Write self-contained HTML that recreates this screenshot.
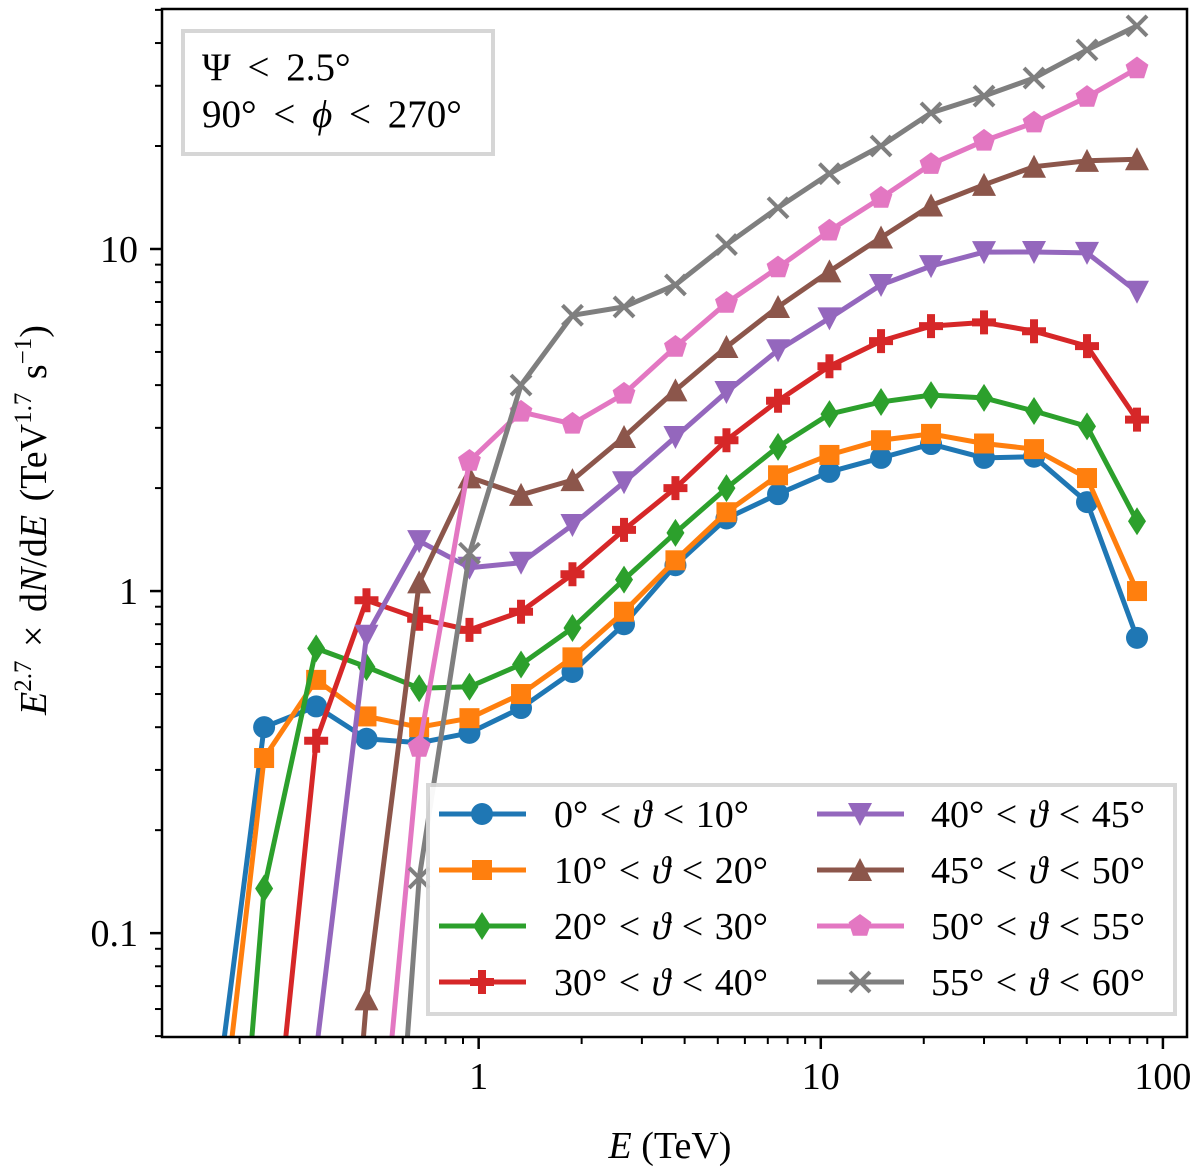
<!DOCTYPE html>
<html><head><meta charset="utf-8"><style>
html,body{margin:0;background:#fff;width:1200px;height:1172px;overflow:hidden;position:relative}
svg{display:block;position:absolute;left:0;top:0;font-family:"Liberation Serif",serif}
</style></head><body>
<svg id="chart" width="1200" height="1172" viewBox="0 0 1200 1172" xmlns="http://www.w3.org/2000/svg">
<defs><clipPath id="clip"><rect x="162" y="9" width="1025" height="1028"/></clipPath></defs>
<g id="plot" clip-path="url(#clip)"></g>
<g id="axes"></g>
<text x="670" y="1158" text-anchor="middle" font-size="38"><tspan font-style="italic">E</tspan> (TeV)</text>
<text transform="translate(46,520) rotate(-90)" text-anchor="middle" font-size="38" word-spacing="4"><tspan font-style="italic">E</tspan><tspan font-size="25" dy="-15">2.7</tspan><tspan dy="15"> × d</tspan><tspan font-style="italic">N</tspan>/d<tspan font-style="italic">E</tspan>  (TeV<tspan font-size="25" dy="-15">1.7</tspan><tspan dy="15"> s</tspan><tspan font-size="25" dy="-15">−1</tspan><tspan dy="15">)</tspan></text>
<g>
<rect x="183" y="31" width="310" height="123" fill="#fff" stroke="#d6d6d6" stroke-width="4"/>
<text x="202" y="80" font-size="39" word-spacing="7">Ψ &lt; 2.5°</text>
<text x="202" y="127" font-size="39" word-spacing="7">90° &lt; <tspan font-style="italic">ϕ</tspan> &lt; 270°</text>
</g>
<g id="legend"></g>
</svg>
<script>
const energies=[0.167,0.236,0.335,0.47,0.67,0.94,1.33,1.88,2.66,3.76,5.3,7.5,10.6,15,21,30,42,60,84];
const labels=["0° < ϑ < 10°","10° < ϑ < 20°","20° < ϑ < 30°","30° < ϑ < 40°","40° < ϑ < 45°","45° < ϑ < 50°","50° < ϑ < 55°","55° < ϑ < 60°"];
const colors=["#1f77b4","#ff7f0e","#2ca02c","#d62728","#9467bd","#8c564b","#e377c2","#7f7f7f"];
const markers=["circle","square","diamond","plus","tridown","triup","pentagon","x"];
const s0=[0.027,0.40,0.46,0.37,0.36,0.385,0.455,0.58,0.80,1.19,1.63,1.92,2.23,2.45,2.69,2.45,2.47,1.82,0.73];
const s1=[0.016,0.325,0.55,0.43,0.40,0.425,0.50,0.64,0.87,1.23,1.70,2.18,2.5,2.76,2.88,2.7,2.6,2.14,1.0];
const s2=[0.002,0.135,0.68,0.60,0.52,0.525,0.61,0.78,1.08,1.48,2.0,2.64,3.29,3.57,3.74,3.67,3.36,3.03,1.6];
const s3=[null,0.012,0.365,0.94,0.83,0.77,0.87,1.12,1.51,2.0,2.76,3.6,4.54,5.38,5.95,6.1,5.75,5.2,3.17];
const s4=[null,null,0.045,0.74,1.40,1.17,1.21,1.56,2.08,2.82,3.82,5.06,6.27,7.85,8.91,9.79,9.8,9.74,7.5];
const s5=[null,null,0.001,0.064,1.06,2.15,1.91,2.11,2.82,3.86,5.17,6.77,8.6,10.8,13.4,15.4,17.4,18.1,18.3];
const s6=[null,null,null,0.008,0.35,2.4,3.34,3.08,3.77,5.17,6.95,8.82,11.3,14.1,17.7,20.7,23.4,27.8,33.7];
const s7=[null,null,null,0.0012,0.145,1.29,4.0,6.4,6.77,7.85,10.3,13.2,16.6,20.0,25,28,31.6,38.2,44.9];
const series=[s0,s1,s2,s3,s4,s5,s6,s7];
const xTicks=[1,10,100];
const xTickLabels=["1","10","100"];
const yTicks=[0.1,1,10];
const yTickLabels=["0.1","1","10"];

const NS="http://www.w3.org/2000/svg";
const X0=162,X1=1187,Y0=9,Y1=1037;
const xMin=Math.log10(0.1187),xMax=Math.log10(117.6),yMin=Math.log10(0.0497),yMax=Math.log10(50.3);
const xs=v=>X0+(Math.log10(v)-xMin)/(xMax-xMin)*(X1-X0);
const ys=v=>Y1-(Math.log10(v)-yMin)/(yMax-yMin)*(Y1-Y0);
function mk(tag,attrs,parent){const e=document.createElementNS(NS,tag);for(const k in attrs)e.setAttribute(k,attrs[k]);parent.appendChild(e);return e;}

function marker(type,cx,cy,color,parent){
  let e;
  if(type==="circle")e=mk("circle",{cx:cx,cy:cy,r:11,fill:color},parent);
  else if(type==="square")e=mk("rect",{x:cx-10,y:cy-10,width:20,height:20,fill:color},parent);
  else if(type==="diamond")e=mk("polygon",{points:`${cx},${cy-14} ${cx+9},${cy} ${cx},${cy+14} ${cx-9},${cy}`,fill:color},parent);
  else if(type==="plus")e=mk("path",{d:`M${cx-4},${cy-12}h8v8h8v8h-8v8h-8v-8h-8v-8h8z`,fill:color},parent);
  else if(type==="tridown")e=mk("polygon",{points:`${cx-12},${cy-11} ${cx+12},${cy-11} ${cx},${cy+12}`,fill:color},parent);
  else if(type==="triup")e=mk("polygon",{points:`${cx-12},${cy+11} ${cx+12},${cy+11} ${cx},${cy-12}`,fill:color},parent);
  else if(type==="pentagon"){let p=[];for(let i=0;i<5;i++){const a=-Math.PI/2+i*2*Math.PI/5;p.push((cx+12*Math.cos(a)).toFixed(1)+","+(cy+12*Math.sin(a)).toFixed(1));}e=mk("polygon",{points:p.join(" "),fill:color},parent);}
  else e=mk("path",{d:`M${cx-10},${cy-10}L${cx+10},${cy+10}M${cx-10},${cy+10}L${cx+10},${cy-10}`,stroke:color,"stroke-width":4,fill:"none"},parent);
  return e;
}

const plot=document.getElementById("plot");
series.forEach((s,k)=>{
  const g=mk("g",{},plot);
  
  
  let d="";
  s.forEach((v,i)=>{if(v==null)return;d+=(d?"L":"M")+xs(energies[i]).toFixed(1)+","+ys(v).toFixed(1);});
  const path=mk("path",{d:d,fill:"none",stroke:colors[k],"stroke-width":5,"stroke-linejoin":"round"},g);
  
  
  s.forEach((v,i)=>{if(v==null)return;
    const m=marker(markers[k],xs(energies[i]),ys(v),colors[k],g);
    
    
  });
});

const axes=document.getElementById("axes");
const frame=mk("rect",{x:X0,y:Y0,width:X1-X0,height:Y1-Y0,fill:"none",stroke:"#000","stroke-width":2.5},axes);


for(let dec=-1;dec<=2;dec++){for(let m=1;m<10;m++){const v=m*Math.pow(10,dec);if(v<0.1187||v>117.6)continue;const x=xs(v);mk("line",{x1:x,x2:x,y1:Y1,y2:Y1+(m===1?12:7),stroke:"#000","stroke-width":m===1?2.5:2},axes);}}
xTicks.forEach((v,i)=>{const t=mk("text",{x:xs(v),y:Y1+52,"text-anchor":"middle","font-size":38},axes);t.textContent=xTickLabels[i];});
for(let dec=-2;dec<=1;dec++){for(let m=1;m<10;m++){const v=m*Math.pow(10,dec);if(v<0.0497||v>50.3)continue;const y=ys(v);mk("line",{x1:X0,x2:X0-(m===1?12:7),y1:y,y2:y,stroke:"#000","stroke-width":m===1?2.5:2},axes);}}
yTicks.forEach((v,i)=>{const t=mk("text",{x:X0-24,y:ys(v)+13,"text-anchor":"end","font-size":38},axes);t.textContent=yTickLabels[i];});

const lg=document.getElementById("legend");
mk("rect",{x:428,y:785,width:747,height:229,fill:"#fff",stroke:"#d6d6d6",'stroke-width':4,opacity:0.95},lg);
const rows=[814,870,926,982];
labels.forEach((lab,k)=>{
  const col=k<4?0:1,row=k%4;
  const hx=col?817:439, tx=col?931:554, y=rows[row];
  const g=mk("g",{},lg);
  
  
  mk("line",{x1:hx,x2:hx+87,y1:y,y2:y,stroke:colors[k],'stroke-width':5},g);
  marker(markers[k],hx+43,y,colors[k],g);
  const t=mk("text",{x:tx,y:y+13,'font-size':38,'word-spacing':2},g);
  const parts=lab.split("ϑ");
  t.appendChild(document.createTextNode(parts[0]));
  const it=mk("tspan",{'font-style':'italic'},t);it.textContent="ϑ";
  t.appendChild(document.createTextNode(parts[1]));
});
</script>
</body></html>
